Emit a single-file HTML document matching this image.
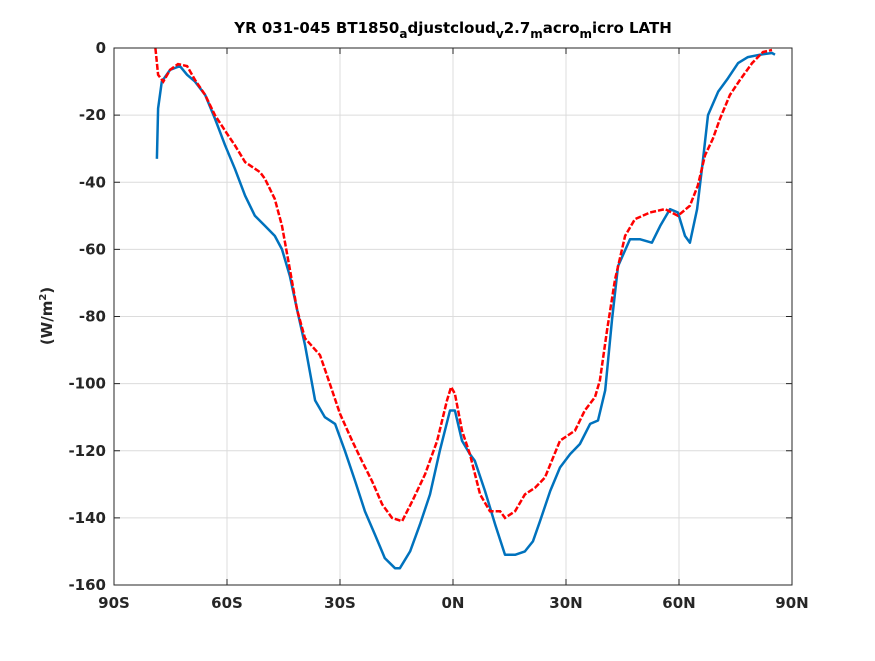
<!DOCTYPE html>
<html><head><meta charset="utf-8"><style>
body{margin:0;background:#fff;width:875px;height:656px;overflow:hidden}
svg{font-family:"DejaVu Sans","Liberation Sans",sans-serif}
</style></head><body>
<svg id="c" width="875" height="656">
<rect width="875" height="656" fill="#fff"/>
<g id="grid"></g>
<g id="series"></g>
<rect x="114" y="48" width="678" height="537" fill="none" stroke="#262626" stroke-width="1"/>
<g id="ticks"></g>
<text x="453" y="33" text-anchor="middle" font-size="15" font-weight="bold" fill="#000">YR 031-045 BT1850<tspan font-size="12" dy="5">a</tspan><tspan dy="-5">djustcloud</tspan><tspan font-size="12" dy="5">v</tspan><tspan dy="-5">2.7</tspan><tspan font-size="12" dy="5">m</tspan><tspan dy="-5">acro</tspan><tspan font-size="12" dy="5">m</tspan><tspan dy="-5">icro LATH</tspan></text>
<text transform="translate(52,316) rotate(-90)" text-anchor="middle" font-size="15" font-weight="bold" fill="#262626">(W/m<tspan font-size="10" dy="-6">2</tspan><tspan dy="6">)</tspan></text>
</svg>
<script>
const xTicks=[-90,-60,-30,0,30,60,90];
const xTickLabels=["90S","60S","30S","0N","30N","60N","90N"];
const yTicks=[0,-20,-40,-60,-80,-100,-120,-140,-160];
const blueLat=[-78.6,-78.3,-77.3,-75.1,-72.5,-70.6,-68.5,-65.8,-63.2,-60.5,-57.9,-55.2,-52.6,-49.9,-47.3,-45.4,-43.3,-41.4,-39.3,-36.6,-34.0,-31.3,-28.7,-26.0,-23.4,-20.7,-18.1,-15.4,-14.1,-11.4,-8.8,-6.1,-3.5,-0.8,0.5,2.4,4.5,5.8,8.5,11.2,13.8,16.5,19.1,21.2,23.1,25.8,28.4,31.1,33.7,36.4,38.5,40.4,42.2,43.8,47.0,49.7,52.8,55.0,57.6,59.7,61.6,62.9,64.8,66.4,67.7,70.4,73.0,75.7,78.3,81.5,84.7,85.5];
const blueVal=[-33,-18,-10,-6.5,-5.4,-8,-10,-14,-21,-29,-36,-44,-50,-53,-56,-60,-68,-78,-88.5,-105,-110,-112,-120,-129,-138,-145,-152,-155,-155,-150,-142,-133,-120,-108,-108,-117,-121,-123,-132,-142,-151,-151,-150,-147,-141,-132,-125,-121,-118,-112,-111,-102,-81,-65,-57,-57,-58,-53,-48,-49,-56,-58,-48,-33,-20,-13,-9,-4.5,-2.7,-2,-1.5,-2];
const redLat=[-79,-78.3,-76.9,-75.1,-73,-70.6,-68.5,-65.8,-63.2,-59.7,-57.9,-55.2,-51.2,-49.9,-47.3,-45.4,-43.3,-41.4,-39.3,-35.3,-32.7,-30,-26.8,-24.2,-21.5,-18.8,-16.2,-13.5,-10.8,-7.4,-4.2,-1.6,-0.5,0.5,2.4,4.5,7.2,9.8,12.5,13.8,16.5,19.1,21.8,24.4,28.4,32.4,35,37.7,39,40.9,43,45.7,48.3,52.3,56.3,59.7,62.9,65,66.9,69,70.9,73.5,76.2,79.4,82.3,84.7];
const redVal=[0,-8,-10,-6.5,-4.8,-5.4,-9.5,-14,-20,-26,-29,-34,-37,-39,-45,-53,-66,-78,-86.5,-91.5,-100,-109,-117,-123,-129,-136,-140,-141,-135,-127,-117,-105,-101,-103,-114,-121,-133,-138,-138,-140,-138,-133,-131,-128,-117,-114,-108,-104,-99,-84,-69,-56,-51,-49,-48,-50,-47,-41,-32,-27,-21,-14,-9.5,-4.5,-1.2,-0.6];
const NS="http://www.w3.org/2000/svg";
const X0=114,X1=792,Y0=48,Y1=585;
function xs(v){return X0+(v+90)/180*(X1-X0);}
function ys(v){return Y0+(0-v)/160*(Y1-Y0);}
function mk(t,a,p){const e=document.createElementNS(NS,t);for(const k in a)e.setAttribute(k,a[k]);p.appendChild(e);return e;}
const grid=document.getElementById('grid'),ticks=document.getElementById('ticks'),ser=document.getElementById('series');
xTicks.forEach((v,i)=>{
 const g=mk('line',{x1:xs(v),x2:xs(v),y1:Y0,y2:Y1,stroke:'#dcdcdc','stroke-width':1},grid);
 
 
 const t=mk('line',{x1:xs(v),x2:xs(v),y1:Y1,y2:Y1-6,stroke:'#262626'},ticks);
 
 
 const t2=mk('line',{x1:xs(v),x2:xs(v),y1:Y0,y2:Y0+6,stroke:'#262626'},ticks);
 
 
 const l=mk('text',{x:xs(v),y:Y1+23,'text-anchor':'middle','font-size':15,'font-weight':'bold',fill:'#262626'},ticks);
 l.textContent=xTickLabels[i];
 
 
});
yTicks.forEach(v=>{
 const g=mk('line',{x1:X0,x2:X1,y1:ys(v),y2:ys(v),stroke:'#dcdcdc','stroke-width':1},grid);
 
 
 const t=mk('line',{x1:X0,x2:X0+6,y1:ys(v),y2:ys(v),stroke:'#262626'},ticks);
 
 
 const t2=mk('line',{x1:X1,x2:X1-6,y1:ys(v),y2:ys(v),stroke:'#262626'},ticks);
 
 
 const l=mk('text',{x:X0-8,y:ys(v)+5,'text-anchor':'end','font-size':15,'font-weight':'bold',fill:'#262626'},ticks);
 l.textContent=String(v);
 
 
});
function path(la,va){return la.map((x,i)=>(i?'L':'M')+xs(x).toFixed(1)+','+ys(va[i]).toFixed(1)).join('');}
const b=mk('path',{d:path(blueLat,blueVal),fill:'none',stroke:'#0072bd','stroke-width':2.5,'stroke-linejoin':'round'},ser);


const r=mk('path',{d:path(redLat,redVal),fill:'none',stroke:'#ff0000','stroke-width':2.5,'stroke-dasharray':'6,2'},ser);


</script>
</body></html>
